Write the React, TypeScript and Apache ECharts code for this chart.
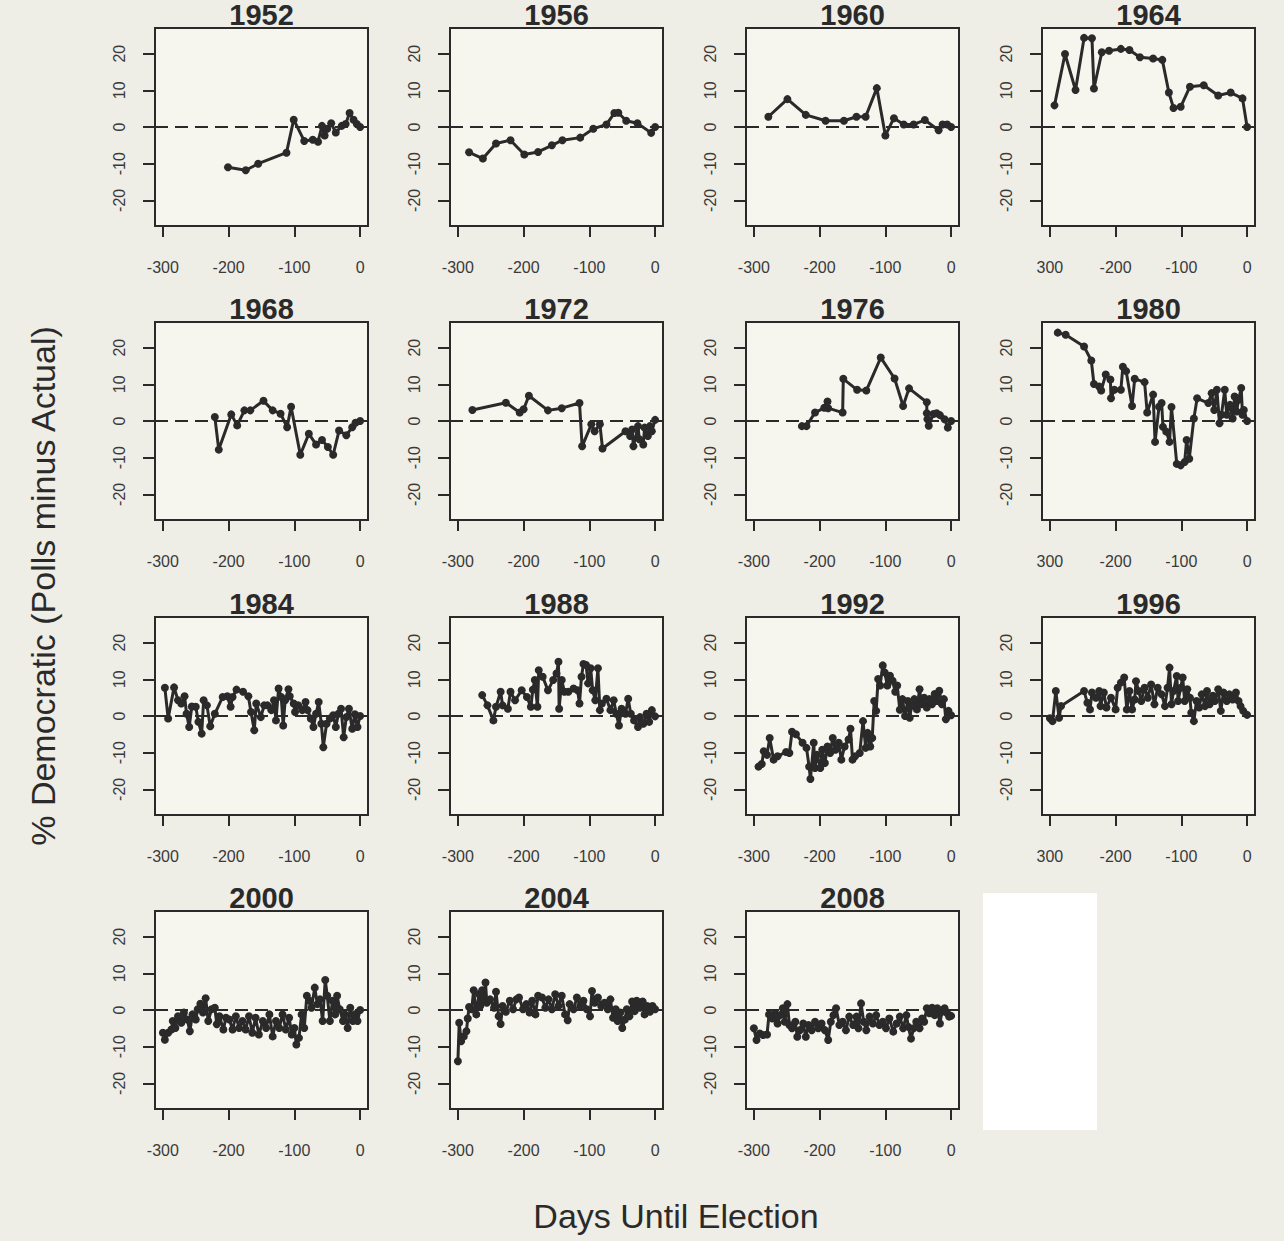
import React, { useEffect, useRef } from "react";
import * as echarts from "echarts";

// ---- data: [days until election, % Democratic polls minus actual] ----
const d1952 = [[-201,-11],[-174,-11.8],[-155,-10],[-112,-7],[-101,2],[-85,-3.8],[-72,-3.5],[-64,-4],[-58,0.3],[-54,-2.3],[-50,-0.5],[-44,1],[-37,-1.5],[-28,0.3],[-22,0.8],[-16,3.8],[-10,2],[-5,0.8],[0,0]];
const d1956 = [[-283,-6.9],[-262,-8.6],[-242,-4.5],[-220,-3.6],[-199,-7.5],[-178,-6.8],[-157,-5],[-141,-3.6],[-114,-2.9],[-94,-0.5],[-74,0.7],[-62,3.8],[-56,3.9],[-44,1.7],[-27,1],[-6,-1.6],[0,0]];
const d1960 = [[-278,2.8],[-249,7.6],[-221,3.3],[-191,1.7],[-163,1.7],[-144,2.8],[-130,2.8],[-113,10.6],[-100,-2.3],[-87,2.4],[-72,0.7],[-57,0.7],[-40,1.9],[-19,-0.9],[-13,0.7],[-6,0.7],[0,0]];
const d1964 = [[-293,5.9],[-277,19.9],[-261,10.1],[-248,24.3],[-236,24.2],[-233,10.5],[-221,20.4],[-210,20.8],[-192,21.3],[-179,21],[-163,19],[-143,18.7],[-129,18.3],[-119,9.4],[-112,5.2],[-101,5.5],[-87,11],[-66,11.4],[-44,8.6],[-25,9.4],[-7,7.8],[0,0]];
const d1968 = [[-221,1.1],[-215,-7.8],[-196,1.8],[-187,-1.2],[-176,2.9],[-167,2.9],[-147,5.5],[-133,2.9],[-121,2],[-111,-1.7],[-105,3.9],[-91,-9.2],[-78,-3.5],[-67,-6.4],[-58,-5.2],[-49,-7.1],[-41,-9.2],[-32,-2.6],[-21,-3.9],[-12,-1.7],[-7,-0.5],[0,0]];
const d1972 = [[-278,3],[-227,5],[-206,2.3],[-200,3.2],[-192,6.9],[-163,2.9],[-142,3.5],[-115,4.9],[-111,-6.9],[-97,-0.9],[-92,-2.8],[-84,-0.9],[-80,-7.5],[-45,-2.8],[-38,-4.1],[-35,-2.3],[-33,-6.9],[-26,-1.4],[-24,-5],[-18,-6.4],[-16,-1.8],[-11,-4.1],[-8,-1.4],[-5,-2.8],[0,0.3]];
const d1976 = [[-227,-1.4],[-220,-1.4],[-207,2.3],[-193,3.6],[-188,5.3],[-187,3.5],[-165,2.3],[-164,11.5],[-143,8.5],[-129,8.3],[-107,17.3],[-86,11.6],[-73,4.1],[-64,8.9],[-37,5.1],[-37,2.1],[-36,0.5],[-34,-1.3],[-27,1.9],[-22,2.1],[-17,1.6],[-10,0.5],[-5,-1.8],[0,0]];
const d1980 = [[-288,24.1],[-276,23.5],[-248,20.3],[-237,16.5],[-233,10.1],[-225,9.4],[-222,8.3],[-215,12.7],[-208,11.3],[-207,6.2],[-202,8.5],[-192,8.5],[-189,14.8],[-184,13.6],[-175,4.1],[-171,11.5],[-156,10.6],[-152,2.3],[-143,7.2],[-140,-5.7],[-134,3.9],[-130,4.9],[-128,-1.6],[-123,-2.9],[-118,-5.7],[-115,3.8],[-107,-11.7],[-101,-12.1],[-95,-11.2],[-92,-5.2],[-88,-10.3],[-81,0.7],[-76,6.2],[-59,4.9],[-54,7.6],[-50,3],[-46,8.5],[-42,-0.6],[-39,1.7],[-34,8.5],[-31,1.7],[-26,4.4],[-22,0.7],[-19,6.7],[-16,2.6],[-13,5.8],[-9,9],[-7,1.7],[-5,3],[0,0]];
const d1984 = [[-297,7.7],[-292,-0.7],[-283,7.8],[-277,4.3],[-272,3.4],[-267,5.4],[-264,0.6],[-260,-3],[-256,2.6],[-250,2.5],[-246,-1.6],[-241,-4.8],[-238,4.3],[-233,2.9],[-228,-2.8],[-221,0.6],[-209,5.2],[-202,5.4],[-197,2.5],[-194,5.2],[-188,7.2],[-178,6.6],[-170,5.4],[-166,1.1],[-161,-3.9],[-158,3.4],[-151,-0.3],[-146,2.9],[-141,2.9],[-135,1.6],[-131,4.3],[-128,-1.2],[-124,7.5],[-120,5.2],[-117,-2.6],[-114,4.3],[-109,7.3],[-107,5.4],[-101,3.4],[-99,1.1],[-94,2.9],[-88,1.6],[-83,3.8],[-80,1.6],[-75,-0.7],[-71,-3],[-67,0.6],[-63,3.8],[-59,-2.1],[-56,-8.5],[-51,-2.1],[-46,-0.7],[-41,0.2],[-37,-3],[-33,0.6],[-29,2],[-25,-5.8],[-21,-0.3],[-17,2],[-12,-3.5],[-8,0.5],[-4,-3],[0,0]];
const d1988 = [[-263,5.7],[-255,2.9],[-246,-1.2],[-242,2.5],[-235,6.6],[-232,2.9],[-224,2],[-220,6.6],[-213,4.3],[-203,7],[-195,5.2],[-189,2.5],[-186,7.2],[-183,9.8],[-179,2.5],[-177,12.5],[-171,10.7],[-163,7],[-155,9.8],[-150,11.6],[-147,14.8],[-146,2],[-142,9.8],[-138,6.6],[-132,6.6],[-124,7.5],[-118,7],[-115,3.4],[-112,10.7],[-109,14.2],[-105,13.9],[-102,8.9],[-98,13],[-95,7],[-91,4.3],[-87,13],[-84,1.6],[-81,3.4],[-74,4.7],[-68,1.6],[-63,4.3],[-59,0.6],[-55,-2.6],[-51,2],[-45,0.6],[-41,4.7],[-37,0.6],[-32,-1.2],[-26,-3],[-23,-0.3],[-18,-2.1],[-13,0.6],[-9,-1.6],[-5,1.6],[0,-0.1]];
const d1992 = [[-293,-13.8],[-288,-13.1],[-285,-9.6],[-280,-10.6],[-276,-6],[-270,-11.9],[-264,-11],[-251,-9.8],[-246,-10.1],[-242,-4.3],[-236,-5],[-226,-7.3],[-220,-8.7],[-216,-13.8],[-214,-17.2],[-209,-7.3],[-207,-14.2],[-204,-10.6],[-199,-14.2],[-196,-9.2],[-192,-12.8],[-188,-8.3],[-184,-10.1],[-180,-6],[-176,-9.2],[-171,-7.3],[-167,-11.9],[-162,-8.3],[-156,-6.4],[-153,-3.5],[-150,-11.9],[-146,-11],[-139,-10.1],[-134,-1.4],[-130,-8.7],[-127,-4.6],[-123,-8.3],[-120,-6],[-117,4.1],[-114,1.4],[-111,10.1],[-108,8.3],[-104,13.8],[-101,11.9],[-97,8.3],[-93,11],[-89,9.6],[-85,6.6],[-82,8.3],[-78,1.7],[-74,4.6],[-70,0],[-66,4.1],[-63,-0.5],[-60,2.8],[-56,4.6],[-52,1.8],[-48,7.3],[-45,3.2],[-41,5],[-37,2.3],[-33,4.6],[-29,3.2],[-25,6],[-22,4.1],[-18,6.9],[-14,3.2],[-11,4.6],[-8,-0.9],[-4,1.4],[0,0.2]];
const d1996 = [[-300,-0.6],[-296,-1.4],[-291,6.8],[-286,-0.5],[-283,2.7],[-248,6.8],[-243,3.6],[-239,1.8],[-236,6.4],[-230,5],[-225,6.8],[-223,2.7],[-218,6.4],[-214,2.3],[-207,5],[-200,1.8],[-197,7.7],[-192,9.1],[-187,10.5],[-183,1.8],[-179,6.8],[-175,1.8],[-171,4.5],[-169,9.5],[-165,6.8],[-161,4.1],[-156,7.7],[-151,5],[-146,8.6],[-141,3.2],[-136,7.7],[-130,5.9],[-125,2.7],[-121,7.7],[-118,13.2],[-115,3.2],[-112,6.8],[-107,10.9],[-105,4.1],[-101,7.7],[-98,10.5],[-95,4.1],[-91,7.3],[-87,5],[-85,0.9],[-81,-1.4],[-77,4.1],[-73,2.3],[-69,5.9],[-64,2.7],[-61,6.8],[-57,3.2],[-52,5.5],[-49,4.1],[-44,7.3],[-40,1.4],[-36,6.4],[-31,4.1],[-27,5.9],[-22,4.5],[-17,6.4],[-13,4.1],[-10,2.7],[-6,1.4],[0,0.3]];
const d2000 = [[-300,-6.2],[-297,-8.1],[-292,-6.2],[-287,-5.3],[-285,-3],[-281,-4.9],[-277,-1.7],[-272,-3.5],[-268,-0.7],[-263,-2.6],[-259,-5.8],[-255,-1.2],[-250,-2.6],[-247,0.2],[-243,1.7],[-239,-0.7],[-235,3.2],[-231,-3],[-226,0.2],[-221,0.6],[-218,-3.9],[-214,-1.7],[-208,-5.3],[-204,-2.1],[-199,-2.6],[-194,-5.3],[-189,-1.7],[-184,-4.9],[-179,-3],[-174,-5.3],[-169,-1.7],[-164,-6.2],[-159,-2.1],[-154,-6.7],[-148,-3],[-143,-4.9],[-138,-1.2],[-133,-7.2],[-128,-3],[-123,-4.9],[-118,-1.2],[-113,-5.3],[-108,-2.1],[-104,-6.7],[-100,-4.9],[-97,-9.4],[-93,-7.6],[-89,-1.2],[-85,-4.9],[-81,3.9],[-77,2.5],[-74,0.6],[-69,6.1],[-65,1.6],[-61,2.9],[-57,-3],[-53,8.2],[-50,3.9],[-46,-3],[-42,2.5],[-38,-1.2],[-35,3.9],[-31,0.2],[-26,-3],[-23,-1.2],[-19,-4.9],[-15,0.6],[-11,-3],[-8,-1.2],[-4,-3],[0,0]];
const d2004 = [[-300,-14],[-298,-3.5],[-295,-8.5],[-291,-7.2],[-287,-5.8],[-285,-2.3],[-283,0.8],[-279,0.2],[-276,5.4],[-272,-1.2],[-268,4.3],[-266,1.1],[-263,5.4],[-261,2.7],[-258,7.5],[-256,2],[-251,2.9],[-245,0.6],[-242,5],[-238,-1.7],[-235,-3.8],[-232,1.1],[-227,-0.5],[-221,2.5],[-216,0.2],[-211,2.9],[-207,3.4],[-201,0.2],[-196,1.6],[-191,-0.7],[-187,2.5],[-182,-1.2],[-178,3.9],[-172,3.4],[-167,0.6],[-162,2.9],[-157,0.2],[-152,4.3],[-147,1.1],[-142,3.9],[-137,-1.2],[-133,-2.8],[-130,1.6],[-124,0.2],[-119,3.4],[-114,1.1],[-109,2.5],[-104,0.2],[-99,-1.7],[-96,5.2],[-92,2],[-87,3.4],[-82,1.1],[-77,2],[-72,0.2],[-68,2.9],[-64,-2.1],[-60,0.2],[-57,-3],[-53,-0.7],[-50,-4.9],[-46,-2.6],[-43,0.2],[-39,-1.7],[-35,2.3],[-31,-0.3],[-28,2.5],[-23,0.6],[-19,2.3],[-16,-1.2],[-12,1.1],[-8,-0.5],[-4,1.1],[0,0.2]];
const d2008 = [[-300,-5],[-296,-8.2],[-291,-6.4],[-286,-6.8],[-280,-6.7],[-277,-1.2],[-272,-2.3],[-268,-0.9],[-264,-3.7],[-260,-1.4],[-256,0.5],[-253,-3.2],[-249,1.6],[-246,-4.1],[-242,-5],[-237,-3.2],[-234,-7.3],[-230,-5.5],[-225,-3.7],[-221,-7.3],[-217,-4.1],[-212,-5.5],[-207,-3.2],[-202,-5],[-197,-3.7],[-192,-5.5],[-187,-8.2],[-183,-3.2],[-179,-1.4],[-175,0.5],[-170,-4.1],[-165,-3.2],[-160,-5.5],[-155,-1.8],[-149,-4.1],[-144,-1.8],[-141,-5],[-137,1.8],[-133,-3.2],[-129,-5.5],[-124,-1.8],[-119,-3.7],[-114,-1.4],[-109,-4.1],[-104,-3.2],[-99,-5],[-94,-2.3],[-88,-5.9],[-83,-3.7],[-78,-1.8],[-73,-5],[-68,-1.4],[-65,-4.6],[-61,-7.8],[-57,-5],[-53,-3.2],[-48,-5],[-44,-2.3],[-41,-3.2],[-37,0.5],[-33,-0.9],[-29,0.6],[-25,-1.4],[-21,0.5],[-17,-3.7],[-14,-0.5],[-10,0.5],[-6,-0.9],[-3,-1.8],[0,-1.6]];

const YEARS = ["1952","1956","1960","1964","1968","1972","1976","1980","1984","1988","1992","1996","2000","2004","2008"];
const SERIES = [d1952,d1956,d1960,d1964,d1968,d1972,d1976,d1980,d1984,d1988,d1992,d1996,d2000,d2004,d2008];

const X_TICKS = [-300, -200, -100, 0];
const Y_TICKS = [-20, -10, 0, 10, 20];
const X_LABELS = ["-300", "-200", "-100", "0"];
const X_LABELS_EDGE = ["300", "-200", "-100", "0"]; // right column: minus sign lost at the edge
const X_RANGE = [-312, 12];
const Y_RANGE = [-27, 27];

const X_TITLE = "Days Until Election";
const Y_TITLE = "% Democratic (Polls minus Actual)";

// ---- layout ----
const COL_LEFT = [155, 450, 746, 1042];
const ROW_TOP = [28, 322, 617, 911];
const BOX_W = 213;
const BOX_H = 198;
const INK = "#2a2a2a";
const TEXT = "#3a3a3a";
const FONT = "'Liberation Sans', Arial, Helvetica, sans-serif";

export default function App() {
  const ref = useRef<HTMLDivElement>(null);
  useEffect(() => {
    if (!ref.current) return;
    const chart = echarts.init(ref.current, null, { renderer: "svg" });
    const grid: any[] = [];
    const xAxis: any[] = [];
    const yAxis: any[] = [];
    const series: any[] = [];
    const graphic: any[] = [];
    SERIES.forEach((data, i) => {
      const r = Math.floor(i / 4);
      const c = i % 4;
      const left = COL_LEFT[c];
      const top = ROW_TOP[r];
      grid.push({
        left, top, width: BOX_W, height: BOX_H,
        show: true, borderColor: INK, borderWidth: 2, backgroundColor: "#f6f5ee",
      });
      const labels = c === 3 ? X_LABELS_EDGE : X_LABELS;
      xAxis.push({
        type: "value", gridIndex: i, min: X_RANGE[0], max: X_RANGE[1], position: "bottom",
        axisLine: { show: false, onZero: false },
        splitLine: { show: false },
        axisTick: { show: true, length: 11, lineStyle: { color: INK, width: 2 }, customValues: X_TICKS },
        axisLabel: {
          customValues: X_TICKS, margin: 33, fontSize: 16, color: TEXT, fontFamily: FONT,
          formatter: (v: number) => labels[X_TICKS.indexOf(v)] ?? String(v),
        },
      });
      yAxis.push({
        type: "value", gridIndex: i, min: Y_RANGE[0], max: Y_RANGE[1], position: "left",
        axisLine: { show: false, onZero: false },
        splitLine: { show: false },
        axisTick: { show: true, length: 12, lineStyle: { color: INK, width: 2 }, customValues: Y_TICKS },
        axisLabel: {
          customValues: Y_TICKS, rotate: 90, margin: 28, fontSize: 16, color: TEXT, fontFamily: FONT,
        },
      });
      series.push({
        type: "line", xAxisIndex: i, yAxisIndex: i, data,
        symbol: "circle", symbolSize: 8, showSymbol: true,
        lineStyle: { color: INK, width: 3 },
        itemStyle: { color: INK },
        z: 3,
        markLine: {
          silent: true, symbol: "none", animation: false,
          label: { show: false },
          lineStyle: { color: INK, width: 2.2, type: [13, 7] },
          data: [{ yAxis: 0 }],
        },
      });
      graphic.push({
        type: "text", x: left + BOX_W / 2, y: top - 13,
        style: {
          text: YEARS[i], fill: INK, font: `bold 29px ${FONT}`,
          align: "center", verticalAlign: "middle",
        },
      });
    });
    graphic.push({
      type: "text", x: 676, y: 1216,
      style: { text: X_TITLE, fill: INK, font: `34px ${FONT}`, align: "center", verticalAlign: "middle" },
    });
    graphic.push({
      type: "text", x: 43, y: 586, rotation: Math.PI / 2,
      style: { text: Y_TITLE, fill: INK, font: `34px ${FONT}`, align: "center", verticalAlign: "middle" },
    });
    graphic.push({
      type: "rect", shape: { x: 983, y: 893, width: 114, height: 237 },
      style: { fill: "#ffffff" }, z: -1,
    });
    chart.setOption({
      animation: false,
      backgroundColor: "#eeede6",
      grid, xAxis, yAxis, series, graphic,
    });
    return () => chart.dispose();
  }, []);
  return (
    <div
      ref={ref}
      style={{ position: "absolute", left: 0, top: 0, width: 1284, height: 1241 }}
    />
  );
}
